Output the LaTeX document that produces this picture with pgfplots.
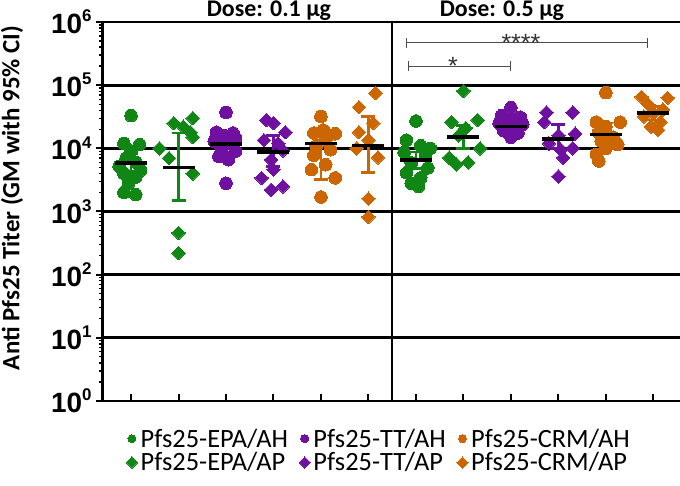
\documentclass[border=0pt]{standalone}
\usepackage{pgfplots}
\pgfplotsset{compat=1.18}
\usepackage{fontspec}
\setmainfont{Carlito}
\newfontfamily\arialfont{Liberation Sans}
\definecolor{cgreen}{RGB}{16,135,20}
\definecolor{cpurple}{RGB}{112,16,160}
\definecolor{corange}{RGB}{204,102,0}
\newcommand{\ytl}[1]{{\arialfont\bfseries\fontsize{28}{28}\selectfont 10\raisebox{0.42em}{\fontsize{17}{17}\selectfont #1}}}
\begin{document}
\begin{tikzpicture}
\begin{axis}[
  scale only axis, width=577bp, height=379bp,
  xmin=0.41, xmax=12.56, ymin=1, ymax=1e6, ymode=log,
  axis x line=bottom, axis y line=left,
  axis line style={-, black},
  x axis line style={line width=2.2bp},
  y axis line style={line width=3bp},
  xtick={1,...,12}, xticklabels={},
  xtick align=inside,
  ytick={1,10,100,1000,10000,100000,1000000},
  yticklabels={\ytl{0},\ytl{1},\ytl{2},\ytl{3},\ytl{4},\ytl{5},\ytl{6}},
  ytick align=outside, ytick pos=left,
  major tick length=7bp, minor tick length=4bp,
  tick style={black, line width=2bp},
  minor tick style={line width=1.3bp},
  ymajorgrids, major grid style={black, line width=2.8bp},
  yticklabel style={xshift=-1bp},
  clip=false,
  legend columns=3,
  legend cell align=left,
  legend style={at={(0.04,-0.07)}, anchor=north west, draw=none, fill=none,
    font=\fontsize{26.5}{28}\selectfont, row sep=2bp, inner sep=0pt,
    nodes={inner sep=1bp},
    /tikz/every even column/.append style={column sep=10bp},
    /tikz/every odd column/.append style={column sep=2bp}},
  legend image code/.code={\draw[#1, mark size=4bp] plot coordinates {(0.1cm,0cm)};},
]
% vertical divider
\addplot[forget plot, black, line width=2bp] coordinates {(6.5,1) (6.5,1e6)};
% significance brackets
\addplot[forget plot, black!70, line width=0.9bp, mark=|, mark size=5bp] coordinates {(6.81,4.68e5) (11.88,4.68e5)};
\addplot[forget plot, black!70, line width=0.9bp, mark=|, mark size=5bp] coordinates {(6.85,2.0e5) (9.0,2.0e5)};
% CI bars
\addplot[forget plot, cgreen, line width=2.6bp, mark=-, mark size=7bp] coordinates {(1,4300) (1,8100)};
\addplot[forget plot, cgreen, line width=2.6bp, mark=-, mark size=7bp] coordinates {(2,1500) (2,17400)};
\addplot[forget plot, cpurple, line width=2.6bp, mark=-, mark size=7bp] coordinates {(3,8500) (3,16000)};
\addplot[forget plot, cpurple, line width=2.6bp, mark=-, mark size=7bp] coordinates {(4,5200) (4,16000)};
\addplot[forget plot, corange, line width=2.6bp, mark=-, mark size=7bp] coordinates {(5,3200) (5,20000)};
\addplot[forget plot, corange, line width=2.6bp, mark=-, mark size=7bp] coordinates {(6,4100) (6,31600)};
\addplot[forget plot, cgreen, line width=2.6bp, mark=-, mark size=7bp] coordinates {(7,4800) (7,8800)};
\addplot[forget plot, cgreen, line width=2.6bp, mark=-, mark size=7bp] coordinates {(8,10000) (8,23000)};
\addplot[forget plot, cpurple, line width=2.6bp, mark=-, mark size=7bp] coordinates {(9,19000) (9,26000)};
\addplot[forget plot, cpurple, line width=2.6bp, mark=-, mark size=7bp] coordinates {(10,10000) (10,24000)};
\addplot[forget plot, corange, line width=2.6bp, mark=-, mark size=7bp] coordinates {(11,11000) (11,25000)};
\addplot[forget plot, corange, line width=2.6bp, mark=-, mark size=7bp] coordinates {(12,28000) (12,46000)};
% EPA/AH
\addplot[only marks, mark=*, mark size=6.3bp, cgreen, mark options={fill=cgreen, draw=cgreen, line width=0pt}] coordinates {
 (1.0,33000) (0.85,12000) (1.18,11500) (1.0,9000) (0.9,7000) (1.1,6000) (0.75,5200)
 (1.2,4500) (0.85,4000) (1.1,3500) (0.95,2800) (0.85,2000) (1.1,1850)
 (7.0,27000) (6.8,13500) (7.1,11000) (7.3,10000) (6.75,8700) (7.2,7800) (6.9,5900)
 (7.25,4900) (6.8,4100) (7.1,3400) (6.9,2800) (7.05,2500)};
\addlegendentry{Pfs25-EPA/AH}
% TT/AH
\addplot[only marks, mark=*, mark size=6.3bp, cpurple, mark options={fill=cpurple, draw=cpurple, line width=0pt}] coordinates {
 (3.0,37000) (2.8,18000) (3.15,17500) (2.95,16000) (3.2,14500) (2.75,13000) (3.05,12000)
 (2.9,10000) (3.2,9000) (2.85,7500) (3.05,6600) (3.0,2800)
 (9.0,44000) (8.8,33000) (9.2,31000) (9.0,28000) (8.75,25000) (9.25,24000) (9.0,21000)
 (8.85,19000) (9.15,17500) (9.0,15000)};
\addlegendentry{Pfs25-TT/AH}
% CRM/AH
\addplot[only marks, mark=*, mark size=6.3bp, corange, mark options={fill=corange, draw=corange, line width=0pt}] coordinates {
 (5.0,32000) (5.05,19500) (4.85,17500) (5.3,17000) (5.1,13500) (4.9,11000) (5.2,9500)
 (4.85,7800) (5.1,5500) (4.8,4600) (5.3,3400) (5.0,1700)
 (11.0,76000) (10.8,26000) (11.3,26000) (11.0,22000) (10.85,18000) (11.15,15000)
 (10.9,13000) (11.25,11500) (11.0,10000) (10.8,8000) (10.85,6300)};
\addlegendentry{Pfs25-CRM/AH}
% EPA/AP
\addplot[only marks, mark=square*, mark size=4.8bp, cgreen, mark options={rotate=45, fill=cgreen, draw=cgreen, line width=0pt}] coordinates {
 (2.3,30000) (1.9,25000) (2.1,22000) (2.25,18000) (2.3,15000) (1.6,10000) (1.8,7000)
 (2.3,4000) (2.0,460) (2.0,220)
 (8.0,81000) (8.3,28000) (7.75,26000) (8.05,21000) (7.9,16000) (8.35,10000) (7.7,7100)
 (8.1,6000) (7.85,5600)};
\addlegendentry{Pfs25-EPA/AP}
% TT/AP
\addplot[only marks, mark=square*, mark size=4.8bp, cpurple, mark options={rotate=45, fill=cpurple, draw=cpurple, line width=0pt}] coordinates {
 (3.85,28000) (4.0,25000) (4.25,18000) (3.8,13500) (4.1,12000) (4.2,9300) (3.95,6600)
 (4.0,4600) (3.75,3400) (4.2,2500) (3.95,2200)
 (9.75,37000) (10.3,37000) (9.7,26000) (10.0,16000) (10.35,17000) (9.8,12000)
 (10.3,10000) (10.05,9500) (10.1,7100) (10.0,3600)};
\addlegendentry{Pfs25-TT/AP}
% CRM/AP
\addplot[only marks, mark=square*, mark size=4.8bp, corange, mark options={rotate=45, fill=corange, draw=corange, line width=0pt}] coordinates {
 (6.15,75000) (5.8,45000) (6.1,25000) (5.8,18000) (6.0,13500) (5.75,10000) (6.2,7200)
 (6.0,1600) (6.0,820)
 (11.75,65000) (12.3,63000) (11.9,49000) (12.2,41000) (12.0,36000) (11.8,32000)
 (12.15,26000) (11.95,22000) (12.1,19500)};
\addlegendentry{Pfs25-CRM/AP}
% GM lines
\addplot[forget plot, only marks, mark=-, mark size=16bp, black, mark options={line width=3.5bp}] coordinates {
 (1,5900) (2,5000) (3,11700) (4,8700) (5,12000) (6,11000)
 (7,6500) (8,15000) (9,22000) (10,14000) (11,16500) (12,36000)};
\node[black!80, font=\arialfont\fontsize{25}{25}\selectfont] at (axis cs:9.21,4.7e5) {****};
\node[black!80, font=\arialfont\fontsize{25}{25}\selectfont] at (axis cs:7.78,2.0e5) {*};
\end{axis}
\node[anchor=base, font=\bfseries\fontsize{24}{24}\selectfont] at (166bp,384bp) {Dose: 0.1 μg};
\node[anchor=base, font=\bfseries\fontsize{24}{24}\selectfont] at (399bp,384bp) {Dose: 0.5 μg};
\node[rotate=90, font=\bfseries\fontsize{25}{25}\selectfont] at (-91bp,203bp) {Anti Pfs25 Titer (GM with 95\% CI)};
\pgfresetboundingbox
\path[use as bounding box] (-103bp,-85bp) rectangle (577bp,401bp);
\end{tikzpicture}
\end{document}
